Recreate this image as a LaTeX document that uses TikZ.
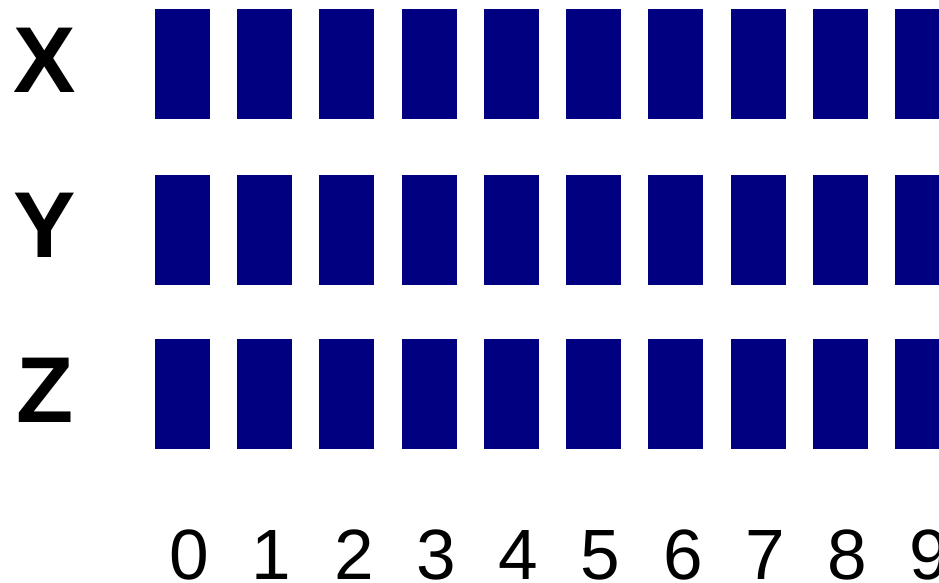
\documentclass[tikz,border=0pt]{standalone}
\usepackage{fontspec}
\setmainfont{Liberation Sans}
\definecolor{barblue}{HTML}{000080}
\tikzset{
  bar/.style={fill=barblue, draw=none},
  rowlabel/.style={anchor=base, inner sep=0pt, font=\fontsize{93.6}{100}\selectfont\bfseries},
  collabel/.style={anchor=base, inner sep=0pt, font=\fontsize{71.2}{80}\selectfont},
}
\begin{document}
\begin{tikzpicture}[x=1pt,y=-1pt]
\useasboundingbox (0,0) rectangle (939,582);
\clip (0,0) rectangle (939,582);
\fill[white] (0,0) rectangle (939,582);
\foreach \r/\lab/\top/\base in {0/X/9/92, 1/Y/175/257, 2/Z/339/422} {
  \node[rowlabel] (row\r) at (45,\base) {\lab};
  \foreach \c in {0,...,9} {
    \pgfmathsetmacro{\xl}{155+82.22*\c}
    \fill[bar] (\xl,\top) rectangle ++(55,110);
  }
}
\foreach \c in {0,...,9} {
  \pgfmathsetmacro{\xc}{155+82.22*\c+27.5+7}
  \node[collabel] (col\c) at (\xc,579) {\c};
}
\end{tikzpicture}
\end{document}
